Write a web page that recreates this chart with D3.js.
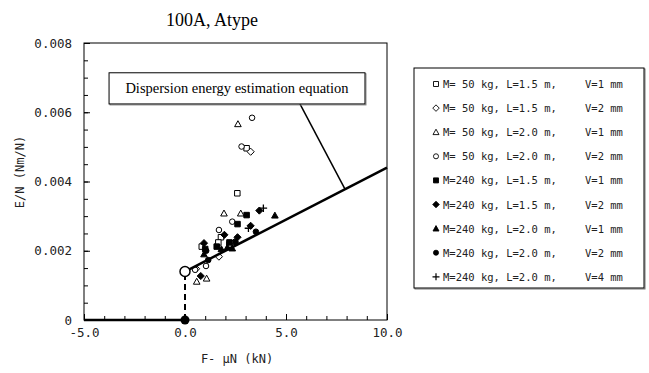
<!DOCTYPE html>
<html>
<head>
<meta charset="utf-8">
<script src="https://cdn.jsdelivr.net/npm/d3@7"></script>
<style>
  body { margin: 0; background: #fff; }
  svg { display: block; }
</style>
</head>
<body>
<svg id="chart" width="649" height="373"></svg>
<script>
// series (x = F-μN in kN, y = E/N)
const seriesNames = [
  ["M= 50 kg, L=1.5 m,", "V=1 mm"],
  ["M= 50 kg, L=1.5 m,", "V=2 mm"],
  ["M= 50 kg, L=2.0 m,", "V=1 mm"],
  ["M= 50 kg, L=2.0 m,", "V=2 mm"],
  ["M=240 kg, L=1.5 m,", "V=1 mm"],
  ["M=240 kg, L=1.5 m,", "V=2 mm"],
  ["M=240 kg, L=2.0 m,", "V=1 mm"],
  ["M=240 kg, L=2.0 m,", "V=2 mm"],
  ["M=240 kg, L=2.0 m,", "V=4 mm"]
];
const seriesShapes = ["square", "diamond", "triangle", "circle", "square", "diamond", "triangle", "circle", "plus"];
const seriesFilled = [false, false, false, false, true, true, true, true, false];

const s1 = [[2.59, 0.00366], [3.05, 0.00496], [1.78, 0.00239], [1.65, 0.00224], [0.83, 0.00212], [2.2, 0.00218]];
const s2 = [[3.25, 0.00486], [1.68, 0.00183], [2.45, 0.00225], [0.55, 0.00148]];
const s3 = [[2.62, 0.00566], [1.93, 0.00308], [2.76, 0.00308], [0.58, 0.00111], [1.07, 0.0012]];
const s4 = [[3.32, 0.00584], [2.8, 0.00501], [2.34, 0.00284], [1.68, 0.0026], [1.04, 0.00156], [0.5, 0.00145]];
const s5 = [[3.05, 0.00303], [2.6, 0.00277], [1.57, 0.00212], [2.2, 0.00224], [1.0, 0.00205]];
const s6 = [[3.68, 0.00316], [3.25, 0.00272], [1.95, 0.00246], [2.6, 0.00239], [0.94, 0.00222], [0.78, 0.00127]];
const s7 = [[4.45, 0.00302], [0.94, 0.0019], [2.34, 0.00207], [1.8, 0.00205], [2.1, 0.0021]];
const s8 = [[3.51, 0.00255], [1.15, 0.00173], [2.5, 0.00225], [1.05, 0.002]];
const s9 = [[3.88, 0.00323], [3.14, 0.00265]];
const seriesData = [s1, s2, s3, s4, s5, s6, s7, s8, s9];

// estimation equation line and the intercept marks
const eqX = [0, 10];
const eqY = [0.0014, 0.0044];
const baseX = [-5, 0];
const leaderFrom = [5.69, 0.00624];
const leaderTo = [7.92, 0.00378];
const noteBox = [-3.76, 0.00714, 8.91, 0.00624];
const noteText = "Dispersion energy estimation equation";

const xTicks = [-5, 0, 5, 10];
const yTicks = [0, 0.002, 0.004, 0.006, 0.008];

const svg = d3.select("#chart");
const x = d3.scaleLinear().domain([-5, 10]).range([84, 387]);
const y = d3.scaleLinear().domain([0, 0.008]).range([320, 43]);

const mono = "'DejaVu Sans Mono', 'Liberation Mono', monospace";
const serif = "'Liberation Serif', 'Times New Roman', serif";

// title
svg.append("text")
  .attr("x", 212).attr("y", 26)
  .attr("text-anchor", "middle")
  .style("font-family", serif).style("font-size", "18px")
  .text("100A, Atype");

// minor ticks
svg.append("g")
  .attr("transform", "translate(84,0)")
  .call(d3.axisLeft(y).tickValues(d3.range(0, 0.00801, 0.0005)).tickSize(-4).tickFormat(""))
  .call(g => g.select(".domain").remove());
svg.append("g")
  .attr("transform", "translate(0,320)")
  .call(d3.axisBottom(x).tickValues(d3.range(-5, 10.01, 1)).tickSize(-4).tickFormat(""))
  .call(g => g.select(".domain").remove());

// labelled ticks
const yAxis = svg.append("g")
  .attr("transform", "translate(84,0)")
  .call(d3.axisLeft(y).tickValues(yTicks).tickSize(-6).tickPadding(12)
    .tickFormat(d => d === 0 ? "0" : d.toFixed(3)));
yAxis.select(".domain").remove();
yAxis.selectAll("text").style("font-family", mono).style("font-size", "12.5px").attr("fill", "#222");

const xAxis = svg.append("g")
  .attr("transform", "translate(0,320)")
  .call(d3.axisBottom(x).tickValues(xTicks).tickSize(-6).tickPadding(8)
    .tickFormat(d => d.toFixed(1)));
xAxis.select(".domain").remove();
xAxis.selectAll("text").style("font-family", mono).style("font-size", "12.5px").attr("fill", "#222");

// frame
svg.append("rect")
  .attr("x", x(-5)).attr("y", y(0.008))
  .attr("width", x(10) - x(-5)).attr("height", y(0) - y(0.008))
  .attr("fill", "none").attr("stroke", "#000").attr("stroke-width", 1);

// axis titles
svg.append("text")
  .attr("x", 237).attr("y", 363)
  .attr("text-anchor", "middle")
  .style("font-family", mono).style("font-size", "12px").attr("fill", "#222")
  .text("F- μN (kN)");
svg.append("text")
  .attr("transform", "translate(24,172) rotate(-90)")
  .attr("text-anchor", "middle")
  .style("font-family", mono).style("font-size", "12px").attr("fill", "#222")
  .text("E/N (Nm/N)");

// markers
function markerPath(shape, s) {
  const h = s / 2;
  if (shape === "square") return `M${-h},${-h}H${h}V${h}H${-h}Z`;
  if (shape === "diamond") { const r = h * 1.3; return `M0,${-r}L${r},0L0,${r}L${-r},0Z`; }
  if (shape === "triangle") { const r = h * 1.2; return `M0,${-r}L${r},${r * 0.8}L${-r},${r * 0.8}Z`; }
  if (shape === "circle") return d3.symbol(d3.symbolCircle, s * s * 0.8)();
  return `M${-h - 1},0H${h + 1}M0,${-h - 1}V${h + 1}`;
}

const plot = svg.append("g");
seriesData.forEach((pts, i) => {
  plot.append("g").selectAll("path")
    .data(pts)
    .join("path")
    .attr("transform", d => `translate(${x(d[0])},${y(d[1])})`)
    .attr("d", markerPath(seriesShapes[i], 5.5))
    .attr("fill", seriesFilled[i] ? "#000" : (seriesShapes[i] === "plus" ? "none" : "#fff"))
    .attr("stroke", "#000")
    .attr("stroke-width", seriesShapes[i] === "plus" ? 1.3 : 1);
});

// thick base segment and estimation line
svg.append("line")
  .attr("x1", x(baseX[0])).attr("y1", y(0))
  .attr("x2", x(baseX[1])).attr("y2", y(0))
  .attr("stroke", "#000").attr("stroke-width", 2.5);
svg.append("line")
  .attr("x1", x(eqX[0])).attr("y1", y(eqY[0]))
  .attr("x2", x(eqX[1])).attr("y2", y(eqY[1]))
  .attr("stroke", "#000").attr("stroke-width", 2.5);
svg.append("line")
  .attr("x1", x(0)).attr("y1", y(0))
  .attr("x2", x(0)).attr("y2", y(eqY[0]))
  .attr("stroke", "#000").attr("stroke-width", 2)
  .attr("stroke-dasharray", "6,4");
svg.append("circle")
  .attr("cx", x(0)).attr("cy", y(0)).attr("r", 4.5)
  .attr("fill", "#000");
svg.append("circle")
  .attr("cx", x(0)).attr("cy", y(eqY[0])).attr("r", 5)
  .attr("fill", "#fff").attr("stroke", "#000").attr("stroke-width", 1.5);

// annotation
svg.append("line")
  .attr("x1", x(leaderFrom[0])).attr("y1", y(leaderFrom[1]))
  .attr("x2", x(leaderTo[0])).attr("y2", y(leaderTo[1]))
  .attr("stroke", "#000").attr("stroke-width", 1.5);
const bx = x(noteBox[0]), by = y(noteBox[1]);
const bw = x(noteBox[2]) - bx, bh = y(noteBox[3]) - by;
svg.append("rect")
  .attr("x", bx + 1).attr("y", by + 1).attr("width", bw).attr("height", bh)
  .attr("fill", "none").attr("stroke", "#888").attr("stroke-width", 1);
svg.append("rect")
  .attr("x", bx).attr("y", by).attr("width", bw).attr("height", bh)
  .attr("fill", "#fff").attr("stroke", "#000").attr("stroke-width", 1);
svg.append("text")
  .attr("x", bx + bw / 2).attr("y", by + bh / 2 + 5)
  .attr("text-anchor", "middle")
  .style("font-family", serif).style("font-size", "14.5px")
  .text(noteText);

// legend
const legend = svg.append("g");
legend.append("rect")
  .attr("x", 415).attr("y", 69).attr("width", 230).attr("height", 220)
  .attr("fill", "none").attr("stroke", "#777").attr("stroke-width", 1);
legend.append("rect")
  .attr("x", 414).attr("y", 68).attr("width", 230).attr("height", 220)
  .attr("fill", "#fff").attr("stroke", "#000").attr("stroke-width", 1);
seriesNames.forEach((nm, i) => {
  const cy = 84 + i * 24.1;
  legend.append("path")
    .attr("transform", `translate(436,${cy})`)
    .attr("d", markerPath(seriesShapes[i], 5))
    .attr("fill", seriesFilled[i] ? "#000" : (seriesShapes[i] === "plus" ? "none" : "#fff"))
    .attr("stroke", "#000").attr("stroke-width", seriesShapes[i] === "plus" ? 1.2 : 0.9);
  legend.append("text")
    .attr("x", 443).attr("y", cy + 4)
    .style("font-family", mono).style("font-size", "10.5px").attr("fill", "#222")
    .text(nm[0]);
  legend.append("text")
    .attr("x", 585).attr("y", cy + 4)
    .style("font-family", mono).style("font-size", "10.5px").attr("fill", "#222")
    .text(nm[1]);
});
</script>
</body>
</html>
